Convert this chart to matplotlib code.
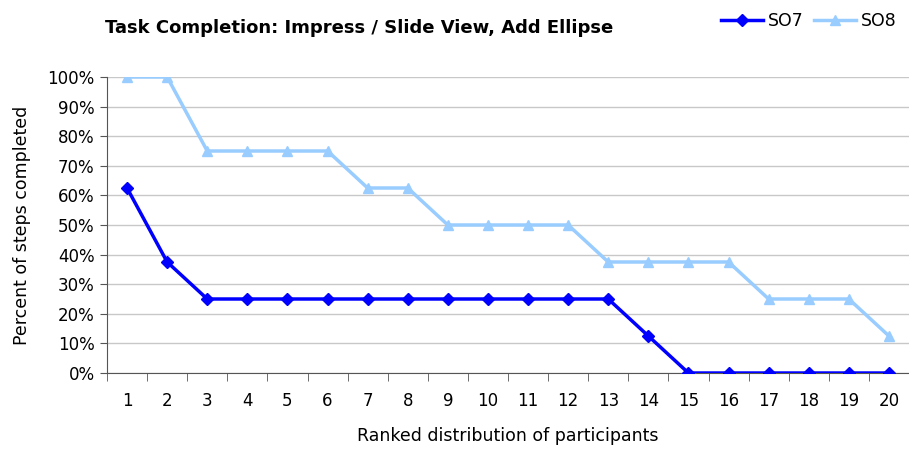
import matplotlib
matplotlib.use("Agg")
import matplotlib.pyplot as plt
from matplotlib.ticker import PercentFormatter

# Ranked participants and completion share (percent)
participants = list(range(1, 21))
so7 = [62.5, 37.5, 25, 25, 25, 25, 25, 25, 25, 25, 25, 25, 25, 12.5, 0, 0, 0, 0, 0, 0]
so8 = [100, 100, 75, 75, 75, 75, 62.5, 62.5, 50, 50, 50, 50, 37.5, 37.5, 37.5, 37.5, 25, 25, 25, 12.5]

fig = plt.figure(figsize=(9.09, 4.5), dpi=100)
ax = fig.add_axes([107 / 909, 1 - 373 / 450, 1 - 107 / 909, 296 / 450])

ax.plot(participants, so7, color="#0000FF", lw=2.5, marker="D", ms=6, label="SO7", zorder=4)
ax.plot(participants, so8, color="#99CCFF", lw=2.5, marker="^", ms=7, label="SO8", zorder=3)

ax.set_xlim(0.5, 20.35)
ax.set_ylim(0, 100)
ax.set_yticks(range(0, 101, 10))
ax.yaxis.set_major_formatter(PercentFormatter(decimals=0))
ax.set_xticks(participants)
ax.set_xticks([i + 0.5 for i in range(0, 21)], minor=True)
ax.tick_params(axis="x", which="major", length=0, pad=14, labelsize=12)
ax.tick_params(axis="x", which="minor", length=6, color="#555555")
ax.tick_params(axis="y", length=5, color="#555555", labelsize=12, pad=4)

ax.grid(axis="y", color="#C8C8C8", lw=1)
ax.set_axisbelow(True)
for s in ["top", "right"]:
    ax.spines[s].set_visible(False)
for s in ["left", "bottom"]:
    ax.spines[s].set_color("#555555")

ax.set_xlabel("Ranked distribution of participants", fontsize=12.5, labelpad=12)
ax.set_ylabel("Percent of steps completed", fontsize=12.5, labelpad=12)

fig.text(105 / 909, 1 - 28 / 450, "Task Completion: Impress / Slide View, Add Ellipse",
         fontsize=13, fontweight="bold", va="center", ha="left")

fig.legend(loc="upper right", bbox_to_anchor=(1.0, 1.0), ncol=2, frameon=False,
           fontsize=12.5, handlelength=2.4, handletextpad=0.3, columnspacing=0.6,
           borderaxespad=0.3)

fig.savefig("out.png", dpi=100)
